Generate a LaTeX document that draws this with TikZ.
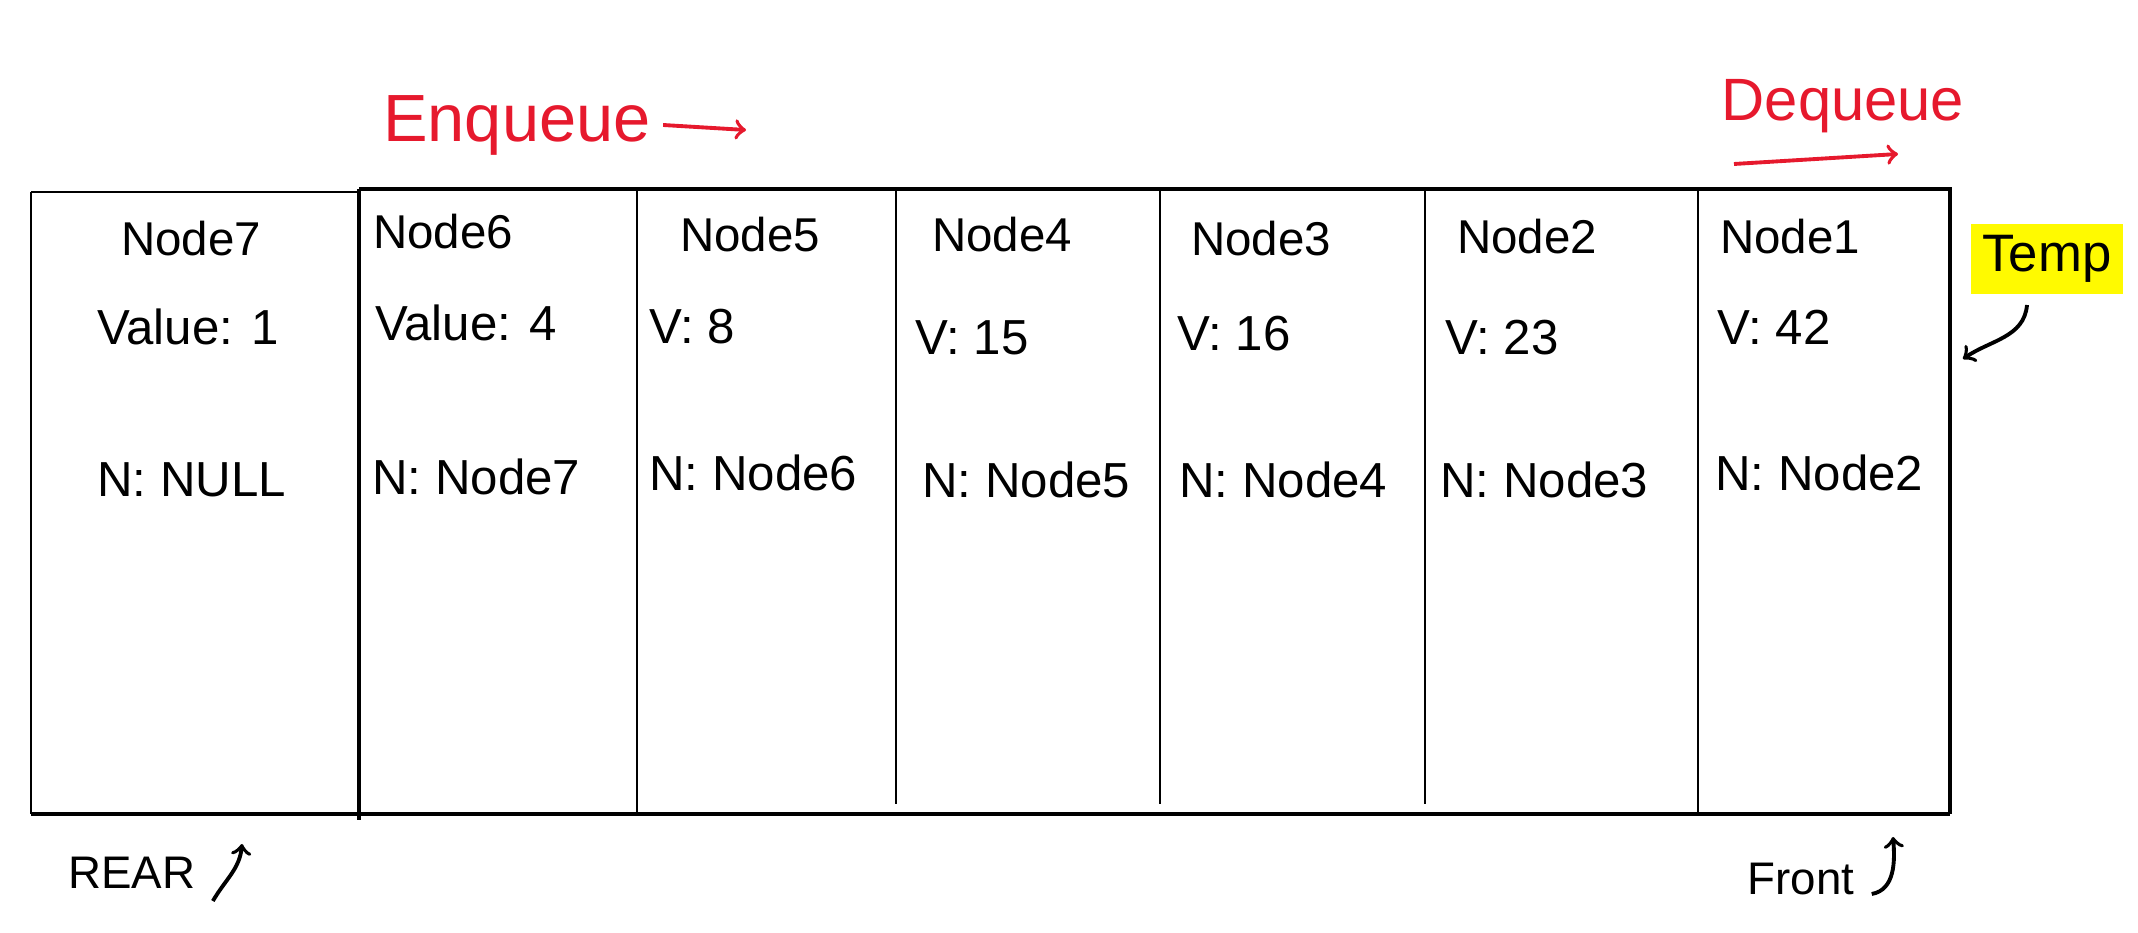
\documentclass[tikz,border=0pt]{standalone}
\usepackage{fontspec}
\setmainfont{Liberation Sans}
\definecolor{penred}{RGB}{230,25,45}
\definecolor{marker}{RGB}{255,250,0}
\begin{document}
\begin{tikzpicture}[
                lbl/.style={font=\fontsize{13.5}{16}\selectfont},
                fld/.style={anchor=west,font=\fontsize{14}{17}\selectfont},
                op/.style={text=penred,font=\fontsize{19}{23}\selectfont},
                redarr/.style={->,penred,line width=1.1pt},
                inkarr/.style={->,line width=1.1pt}
            ]
                \useasboundingbox (0,0) rectangle (21.38,-9.33);
                \draw[line width=0.8pt] (0.31,-1.92) -- (0.31,-8.14);
                \draw[line width=0.8pt] (0.31,-1.92) -- (3.59,-1.92);
                \draw[line width=1.2pt] (0.31,-8.14) -- (19.50,-8.14);
                \draw[line width=1.2pt] (3.59,-1.89) -- (19.50,-1.89) -- (19.50,-8.14);
                \draw[line width=0.9pt] (3.59,-1.89) -- (3.59,-8.20);
                \draw[line width=0.8pt] (6.37,-1.89) -- (6.37,-8.14);
                \draw[line width=0.6pt] (8.96,-1.89) -- (8.96,-8.04);
                \draw[line width=0.6pt] (11.60,-1.89) -- (11.60,-8.04);
                \draw[line width=0.6pt] (14.25,-1.89) -- (14.25,-8.04);
                \draw[line width=0.6pt] (16.98,-1.89) -- (16.98,-8.14);
                \node[lbl] (N7) at (1.91,-2.39) {Node7};
                \node[lbl] (N6) at (4.43,-2.32) {Node6};
                \node[lbl] (N5) at (7.50,-2.35) {Node5};
                \node[lbl] (N4) at (10.02,-2.35) {Node4};
                \node[lbl] (N3) at (12.61,-2.39) {Node3};
                \node[lbl] (N2) at (15.27,-2.37) {Node2};
                \node[lbl] (N1) at (17.90,-2.37) {Node1};
                \node[fld] (V7) at (0.85,-3.27) {Value: 1};
                \node[fld] (V6) at (3.63,-3.23) {Value: 4};
                \node[fld] (V5) at (6.37,-3.27) {V: 8};
                \node[fld] (V4) at (9.03,-3.38) {V: 15};
                \node[fld] (V3) at (11.65,-3.34) {V: 16};
                \node[fld] (V2) at (14.33,-3.38) {V: 23};
                \node[fld] (V1) at (17.05,-3.27) {V: 42};
                \node[fld] (P7) at (0.85,-4.80) {N: NULL};
                \node[fld] (P6) at (3.60,-4.77) {N: Node7};
                \node[fld] (P5) at (6.37,-4.73) {N: Node6};
                \node[fld] (P4) at (9.10,-4.80) {N: Node5};
                \node[fld] (P3) at (11.67,-4.80) {N: Node4};
                \node[fld] (P2) at (14.28,-4.80) {N: Node3};
                \node[fld] (P1) at (17.03,-4.73) {N: Node2};
                \node[op] (E) at (5.17,-1.25) {Enqueue};
                \coordinate (E1) at (7.46,-1.30);
                \draw[redarr] (E.east) -- (E1);
                \node[op,font=\fontsize{17}{21}\selectfont] (D) at (18.43,-1.06) {Dequeue};
                \coordinate (Q1) at (17.34,-1.64);
                \coordinate (Q2) at (18.98,-1.54);
                \draw[redarr] (Q1) -- (Q2);
                \node[fill=marker,minimum width=1.32cm,minimum height=0.68cm,font=\fontsize{15}{18}\selectfont] (T) at (20.47,-2.59) {Temp};
                \coordinate (T1) at (19.63,-3.59);
                \draw[inkarr] ([xshift=-0.2cm,yshift=-0.1cm]T.south) to[out=-95,in=35] (T1);
                \node[font=\fontsize{13}{16}\selectfont] (R) at (1.32,-8.73) {REAR};
                \coordinate (R1) at (2.42,-8.44);
                \draw[inkarr] ([xshift=0.05cm,yshift=-0.28cm]R.east) to[out=60,in=-95] (R1);
                \node[font=\fontsize{13}{16}\selectfont] (F) at (18.01,-8.79) {Front};
                \coordinate (F1) at (18.93,-8.37);
                \draw[inkarr] ([xshift=0.05cm,yshift=-0.15cm]F.east) to[out=10,in=-85] (F1);
            \end{tikzpicture}
\end{document}
